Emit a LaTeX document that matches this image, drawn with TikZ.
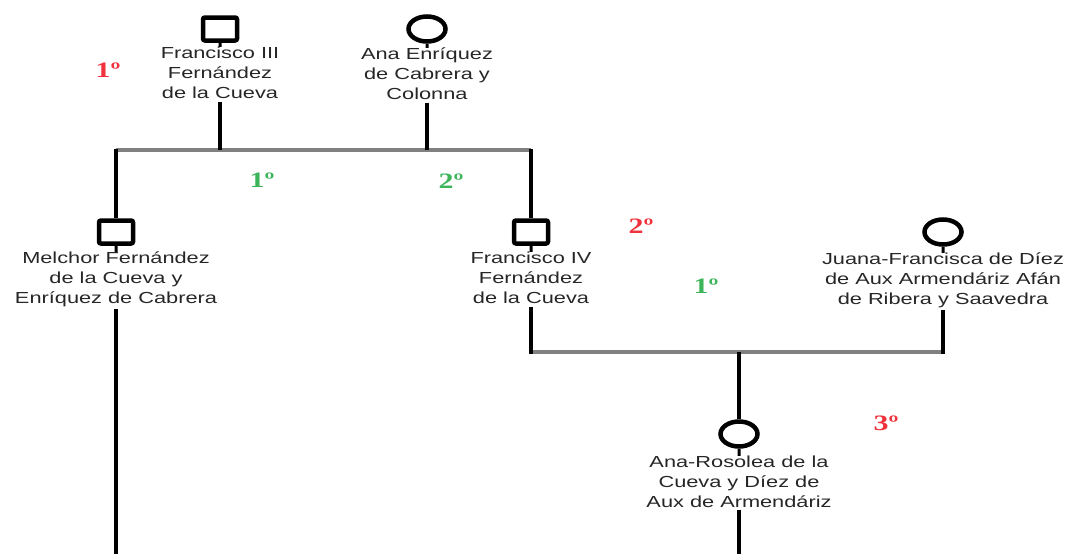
\documentclass[tikz,border=0pt]{standalone}
\usepackage{fontspec}
\setmainfont{Liberation Sans}
\newfontfamily\ordfont{Liberation Serif}
\usetikzlibrary{positioning, shapes.geometric}

\definecolor{ordred}{RGB}{240,50,60}
\definecolor{ordgreen}{RGB}{60,180,90}

\tikzset{
  male/.style={draw, line width=4.5pt, rounded corners=2pt, minimum width=34pt, minimum height=23pt, inner sep=0pt},
  female/.style={draw, ellipse, line width=4.5pt, minimum width=37pt, minimum height=25pt, inner sep=0pt},
  person/.style={align=center, inner sep=0pt, font=\fontsize{16}{20}\selectfont, xscale=1.36, transform shape, text=black!85},
  kin/.style={line width=4pt},
  union/.style={line width=3.5pt, gray},
  stub/.style={line width=3pt},
  wed/.style={font=\ordfont\bfseries\fontsize{22}{22}\selectfont, xscale=1.36, transform shape},
}

\begin{document}
\begin{tikzpicture}[x=1pt, y=-1pt]
    \useasboundingbox (0,0) rectangle (1073,554);
    % first generation
    \node[male] (fra3) at (220,29) {};
    \node[person, below=4pt of fra3] (fra3n) {Francisco III\\Fernández\\de la Cueva};
    \node[female] (ana) at (427,29) {};
    \node[person, below=4pt of ana] (anan) {Ana Enríquez\\de Cabrera y\\Colonna};
    \coordinate (u1) at (0,150);
    % second generation
    \node[male] (mel) at (116,232) {};
    \node[person, below=6pt of mel] (meln) {Melchor Fernández\\de la Cueva y\\Enríquez de Cabrera};
    \node[male] (fra4) at (531,232) {};
    \node[person, below=6pt of fra4] (fra4n) {Francisco IV\\Fernández\\de la Cueva};
    \node[female] (jua) at (943,232) {};
    \node[person, below=6pt of jua] (juan) {Juana-Francisca de Díez\\de Aux Armendáriz Afán\\de Ribera y Saavedra};
    \coordinate (u2) at (0,352);
    % third generation
    \node[female] (ros) at (739,434) {};
    \node[person, below=7pt of ros] (rosn) {Ana-Rosolea de la\\Cueva y Díez de\\Aux de Armendáriz};
    \coordinate (bot) at (0,554);
    % stubs
    \foreach \p in {fra3, ana, mel, fra4, jua, ros}
        \draw[stub] (\p) -- (\p n);
    % unions
    \draw[union] (mel |- u1) -- (fra4 |- u1);
    \draw[union] (fra4 |- u2) -- (jua |- u2);
    \draw[kin] ([yshift=-3pt]fra3n.south) -- (fra3 |- u1);
    \draw[kin] ([yshift=-3pt]anan.south) -- (ana |- u1);
    \draw[kin] ([yshift=1.5pt]mel |- u1) -- (mel);
    \draw[kin] ([yshift=1.5pt]fra4 |- u1) -- (fra4);
    \draw[kin] ([yshift=-3pt]fra4n.south) -- ([yshift=-1.5pt]fra4 |- u2);
    \draw[kin] ([yshift=-2pt]juan.south) -- ([yshift=-1.5pt]jua |- u2);
    \draw[kin] (ros |- u2) -- (ros);
    \draw[kin] ([yshift=-2pt]meln.south) -- (mel |- bot);
    \draw[kin] ([yshift=-2pt]rosn.south) -- (ros |- bot);
    % marriage order
    \node[wed, text=ordred] (w1) at (108,70) {1º};
    \node[wed, text=ordgreen] (w2) at (262,180) {1º};
    \node[wed, text=ordgreen] (w3) at (451,181) {2º};
    \node[wed, text=ordred] (w4) at (641,226) {2º};
    \node[wed, text=ordgreen] (w5) at (706,286) {1º};
    \node[wed, text=ordred] (w6) at (886,423) {3º};
\end{tikzpicture}
\end{document}
